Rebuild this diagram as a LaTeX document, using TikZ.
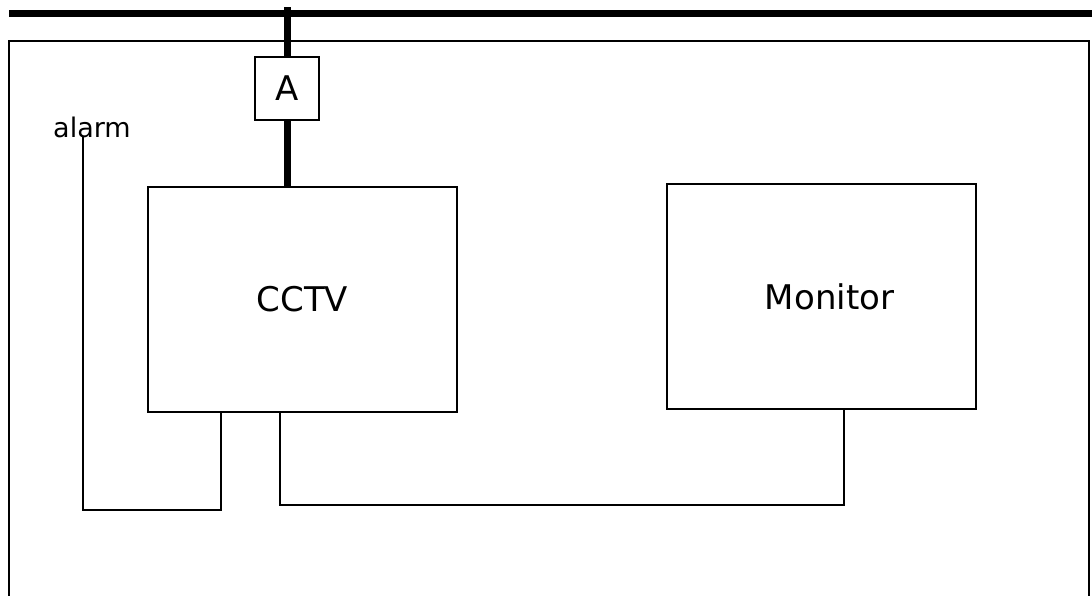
\documentclass[tikz,border=0pt]{standalone}
\usepackage{fontspec}
\setmainfont{DejaVu Sans}
\usetikzlibrary{positioning}

\begin{document}
\begin{tikzpicture}[x=1pt,y=-1pt,
  unit/.style={draw,line width=2pt,font=\fontsize{34}{40}\selectfont},
  wire/.style={line width=2pt},
  bus/.style={line width=7pt}]
  \useasboundingbox (0,0) rectangle (1092,595);
  % outer frame, open at the bottom
  \coordinate (frameBL) at (9,600);
  \coordinate (frameTL) at (9,41);
  \coordinate (frameTR) at (1089,41);
  \coordinate (frameBR) at (1089,600);
  \draw[wire] (frameBL) -- (frameTL) -- (frameTR) -- (frameBR);
  % mains bus
  \coordinate (busL) at (9,13);
  \coordinate (busR) at (1092,13);
  \draw[bus] (busL) -- (busR);
  \node[unit,minimum width=309,minimum height=225] (cctv) at (302.5,299.5) {CCTV};
  \node[unit,minimum width=309,minimum height=225] (monitor) at (821.5,296.5) {\hspace*{16pt}Monitor};
  \node[unit,minimum width=64,minimum height=63,inner sep=0pt] (abox) at (287,88.5) {A};
  \coordinate (busTap) at (abox.north |- 0,7);
  \draw[bus] (busTap) -- (abox.north);
  \draw[bus] (abox.south) -- (abox.south |- cctv.north);
  \node[font=\fontsize{27}{32}\selectfont,anchor=base west,inner sep=0pt] (alarm) at (53,137) {alarm};
  \coordinate (alarmTap) at ([xshift=30pt]alarm.base west);
  \draw[wire] (alarmTap) -- ++(0,373) -| ([xshift=74pt]cctv.south west);
  \draw[wire] ([xshift=133pt]cctv.south west) -- ++(0,92) -| ([xshift=178pt]monitor.south west);
\end{tikzpicture}
\end{document}
